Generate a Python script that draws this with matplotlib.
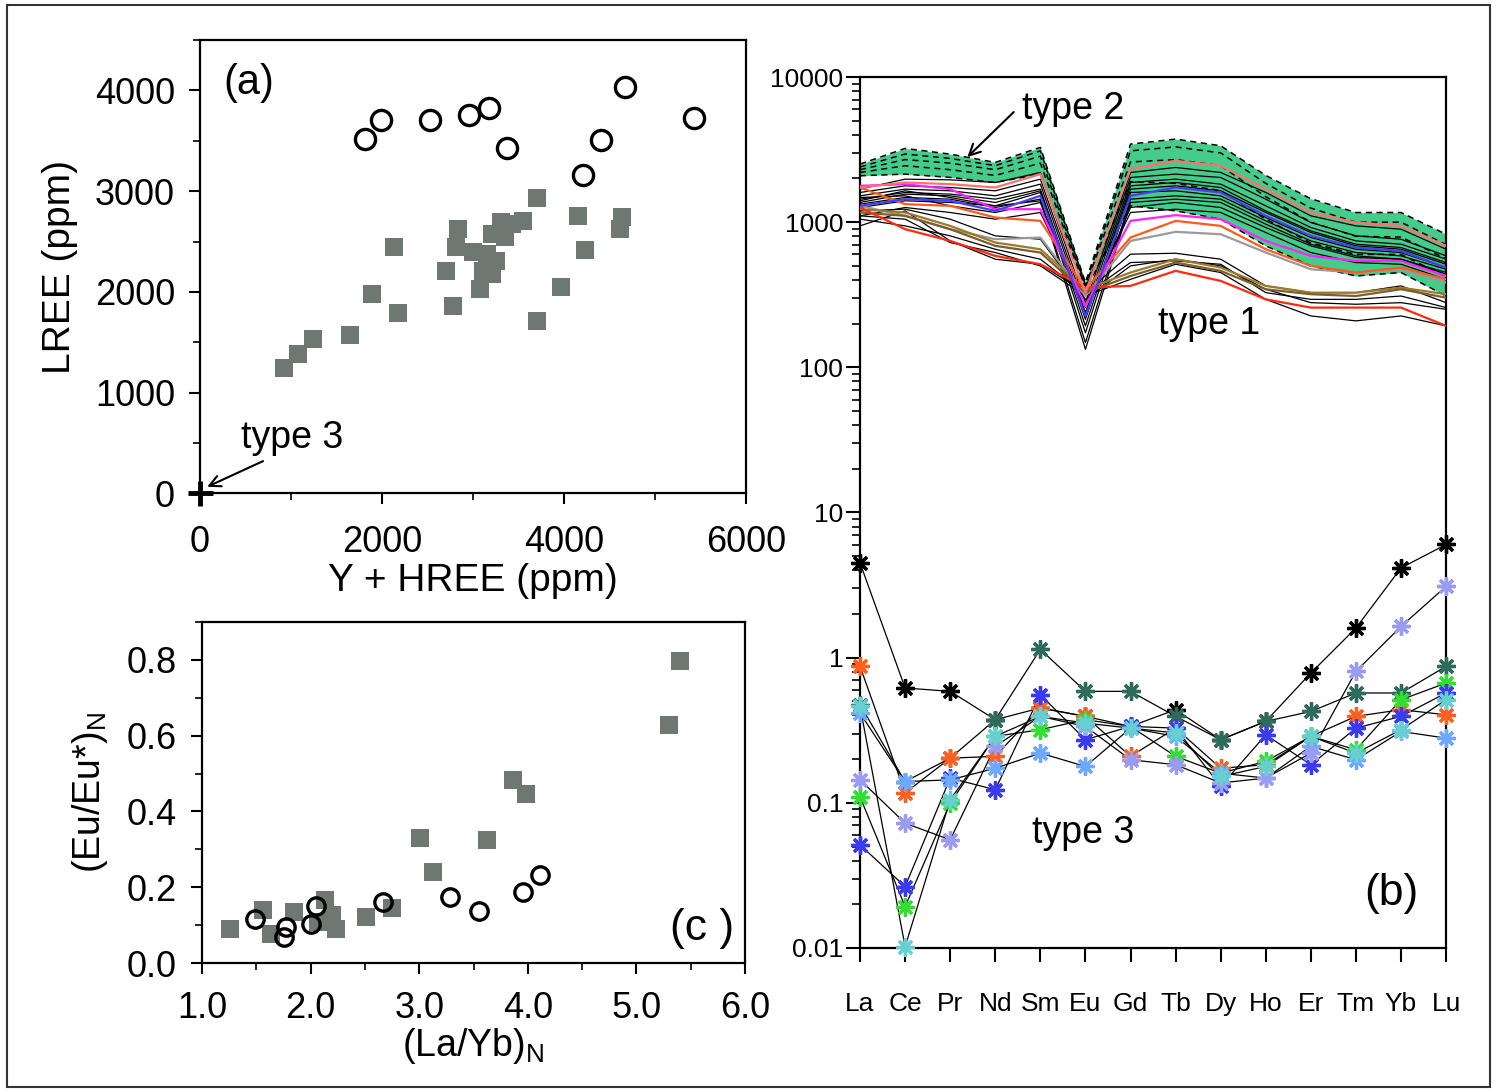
import numpy as np
import matplotlib.pyplot as plt
from matplotlib.patches import Rectangle
from matplotlib.ticker import MultipleLocator, LogLocator, NullFormatter

plt.rcParams['font.family'] = ['Liberation Sans', 'DejaVu Sans']
plt.rcParams['mathtext.default'] = 'regular'

# ---------------- panel (a) data: LREE vs Y+HREE (ppm)
a_circ_x = [1813, 1990, 2523, 2957, 3174, 3378, 4206, 4408, 4671, 5428]
a_circ_y = [3515, 3703, 3706, 3755, 3828, 3426, 3158, 3508, 4033, 3723]
a_sq_x = [918, 1072, 1242, 1644, 1893, 2180, 2137, 2700, 2779, 2838, 2818, 2996, 3075, 3114,
          3153, 3212, 3252, 3212, 3349, 3311, 3429, 3547, 3706, 3706, 3962, 4159, 4226, 4640, 4612]
a_sq_y = [1244, 1386, 1528, 1574, 1980, 1792, 2449, 2211, 1855, 2624, 2442, 2393, 2024, 2211,
          2376, 2178, 2310, 2574, 2541, 2689, 2673, 2706, 2931, 1706, 2046, 2749, 2416, 2746, 2624]
a_type3_x = [0]
a_type3_y = [0]

# ---------------- panel (c) data: (Eu/Eu*)N vs (La/Yb)N
c_sq_x = [1.26, 1.56, 1.64, 1.85, 2.07, 2.13, 2.20, 2.23, 2.51, 2.75, 3.01, 3.13, 3.62, 3.86, 3.98, 5.30, 5.40]
c_sq_y = [0.089, 0.140, 0.077, 0.135, 0.109, 0.166, 0.126, 0.089, 0.122, 0.144, 0.329, 0.240, 0.324, 0.482, 0.446, 0.629, 0.798]
c_circ_x = [1.49, 1.77, 1.76, 2.00, 2.05, 2.67, 3.28, 3.55, 3.96, 4.11]
c_circ_y = [0.116, 0.095, 0.069, 0.104, 0.151, 0.160, 0.173, 0.138, 0.187, 0.231]

# ---------------- panel (b) data: chondrite-normalised REE
elements = ['La', 'Ce', 'Pr', 'Nd', 'Sm', 'Eu', 'Gd', 'Tb', 'Dy', 'Ho', 'Er', 'Tm', 'Yb', 'Lu']

# type 2 (shaded band, dashed lines)
t2_upper = [2512, 3222, 2944, 2581, 3275, 384, 3451, 3736, 3361, 2100, 1450, 1166, 1166, 826]
t2_mid1 = [2400, 2950, 2750, 2450, 3100, 370, 3100, 3300, 3000, 1850, 1250, 1000, 1000, 700]
t2_mid2 = [2300, 2700, 2550, 2300, 2850, 360, 2600, 2700, 2450, 1500, 1000, 800, 790, 560]
t2_mid3 = [2200, 2450, 2300, 2100, 2550, 352, 1900, 1850, 1650, 1050, 720, 600, 600, 420]
t2_lower = [2088, 2143, 2034, 1877, 2143, 345, 1297, 1197, 1049, 687, 500, 426, 450, 310]

# type 1 (coloured lines)
t1_pink = [1734, 1877, 1828, 1734, 2143, 327, 2320, 2648, 2447, 1689, 1166, 995, 943, 687]
t1_blue = [1296, 1441, 1404, 1197, 1519, 226, 1519, 1734, 1602, 1106, 805, 669, 634, 487]
t1_magenta = [1780, 1828, 1689, 1229, 1229, 265, 1021, 1118, 1049, 743, 586, 541, 541, 426]
t1_orange = [1734, 1331, 1296, 1077, 1021, 345, 784, 1021, 943, 651, 500, 450, 487, 404]
t1_gray = [1296, 1106, 895, 763, 784, 310, 743, 858, 826, 618, 474, 450, 474, 384]
t1_brown1 = [1229, 1166, 943, 724, 651, 345, 450, 556, 487, 364, 327, 327, 354, 319]
t1_brown2 = [1166, 1106, 895, 687, 618, 327, 426, 527, 462, 345, 319, 310, 345, 302]
t1_red = [1262, 895, 743, 586, 513, 354, 364, 462, 394, 294, 258, 258, 258, 193]
# type 1 (black lines)
t1_k1 = [943, 1197, 743, 556, 513, 327, 602, 611, 556, 364, 327, 327, 364, 279]
t1_k2 = [1049, 943, 805, 651, 556, 319, 527, 541, 513, 327, 294, 294, 310, 258]
t1_k3 = [1106, 1049, 724, 618, 500, 310, 404, 513, 450, 294, 226, 209, 226, 193]
t1_k4 = [1197, 1229, 1049, 805, 763, 294, 500, 556, 500, 345, 279, 272, 279, 251]
t1_k5 = [1689, 1979, 1958, 1877, 2200, 279, 2200, 2382, 2200, 1602, 1106, 943, 895, 651]
t1_k6 = [1602, 1780, 1734, 1645, 1979, 258, 2032, 2143, 2032, 1441, 995, 805, 763, 586]
t1_k7 = [1519, 1689, 1645, 1519, 1828, 238, 1877, 1979, 1828, 1296, 919, 743, 705, 556]
t1_k8 = [1441, 1602, 1560, 1441, 1689, 214, 1780, 1877, 1734, 1197, 871, 705, 669, 527]
t1_k9 = [1367, 1560, 1519, 1367, 1645, 193, 1689, 1780, 1645, 1166, 849, 687, 651, 513]
t1_k10 = [1404, 1645, 1480, 1296, 1602, 173, 1602, 1645, 1519, 1077, 784, 651, 618, 487]
t1_k11 = [1331, 1480, 1441, 1262, 1441, 148, 1441, 1519, 1441, 1021, 743, 618, 586, 474]
t1_k12 = [1262, 1404, 1367, 1296, 1404, 133, 1367, 1441, 1367, 969, 705, 586, 556, 450]
t1_k13 = [1480, 1519, 1296, 1166, 1367, 238, 1262, 1367, 1262, 919, 687, 571, 556, 438]
t1_k14 = [1106, 1262, 1166, 1049, 1166, 265, 1166, 1229, 1166, 849, 618, 527, 513, 404]

# type 3 (asterisk markers)
t3_black = [4.50, 0.618, 0.586, 0.374, 0.450, 0.394, 0.336, 0.438, 0.272, 0.364, 0.784, 1.60, 4.15, 6.02]
t3_teal = [0.474, 0.140, 0.203, 0.374, 1.14, 0.586, 0.586, 0.394, 0.272, 0.364, 0.426, 0.571, 0.571, 0.871]
t3_orange = [0.871, 0.117, 0.203, 0.209, 0.450, 0.394, 0.209, 0.327, 0.173, 0.183, 0.287, 0.394, 0.438, 0.404]
t3_green = [0.110, 0.0193, 0.0995, 0.287, 0.319, 0.374, 0.336, 0.209, 0.160, 0.193, 0.287, 0.232, 0.513, 0.668]
t3_blue = [0.0513, 0.0265, 0.148, 0.123, 0.556, 0.272, 0.336, 0.327, 0.130, 0.294, 0.183, 0.327, 0.394, 0.571]
t3_lightblue = [0.415, 0.140, 0.144, 0.173, 0.220, 0.178, 0.327, 0.287, 0.160, 0.148, 0.245, 0.198, 0.310, 0.279]
t3_lavender = [0.144, 0.0724, 0.0556, 0.245, 0.394, 0.336, 0.198, 0.183, 0.137, 0.148, 0.220, 0.805, 1.64, 3.10]
t3_cyan = [0.462, 0.0102, 0.105, 0.287, 0.394, 0.354, 0.327, 0.303, 0.152, 0.178, 0.287, 0.220, 0.319, 0.513]

SQ = '#6f7773'
TICK = 26

fig = plt.figure(figsize=(14.97, 10.91), dpi=100)
fig.patches.append(Rectangle((0.005, 0.004), 0.99, 0.991, transform=fig.transFigure,
                             fill=False, edgecolor='#333333', linewidth=1.5))


def style_box(ax):
    for s in ax.spines.values():
        s.set_linewidth(1.6)
    ax.tick_params(which='major', direction='out', length=8, width=1.5, labelsize=TICK)
    ax.tick_params(which='minor', direction='out', length=5, width=1.2)
    ax.tick_params(axis='y', pad=10)


# ---------------- (a)
ax_a = fig.add_axes([0.1336, 0.5478, 0.3647, 0.4155])
ax_a.scatter(a_sq_x, a_sq_y, marker='s', s=170, color=SQ, linewidths=0, zorder=2)
ax_a.plot(a_circ_x, a_circ_y, 'o', ms=14.5, mfc='white', mec='black', mew=2.4, zorder=3)
ax_a.plot(a_type3_x, a_type3_y, '+', ms=18, mec='black', mew=3.5, clip_on=False, zorder=4)
ax_a.set_xlim(0, 6000)
ax_a.set_ylim(0, 4500)
ax_a.xaxis.set_major_locator(MultipleLocator(2000))
ax_a.xaxis.set_minor_locator(MultipleLocator(1000))
ax_a.yaxis.set_major_locator(MultipleLocator(1000))
ax_a.yaxis.set_minor_locator(MultipleLocator(500))
style_box(ax_a)
ax_a.tick_params(axis='x', pad=15)
ax_a.set_xlabel('Y + HREE (ppm)', fontsize=28, labelpad=2)
ax_a.set_ylabel('LREE (ppm)', fontsize=28, labelpad=12)
ax_a.text(0.09, 0.905, '(a)', transform=ax_a.transAxes, fontsize=30, ha='center', va='center')
ax_a.text(1010, 545, 'type 3', fontsize=27, ha='center', va='center')
ax_a.annotate('', xy=(79, 65), xytext=(693, 320),
              arrowprops=dict(arrowstyle='->', color='black', lw=1.5, shrinkA=0, shrinkB=0,
                              mutation_scale=20))

# ---------------- (c)
ax_c = fig.add_axes([0.1349, 0.1173, 0.3628, 0.3126])
ax_c.scatter(c_sq_x, c_sq_y, marker='s', s=170, color=SQ, linewidths=0, zorder=2)
ax_c.plot(c_circ_x, c_circ_y, 'o', ms=12.5, mfc='none', mec='black', mew=2.4, zorder=3)
ax_c.set_xlim(1.0, 6.0)
ax_c.set_ylim(0.0, 0.9)
ax_c.xaxis.set_major_locator(MultipleLocator(1.0))
ax_c.xaxis.set_minor_locator(MultipleLocator(0.5))
ax_c.yaxis.set_major_locator(MultipleLocator(0.2))
ax_c.yaxis.set_minor_locator(MultipleLocator(0.1))
ax_c.xaxis.set_major_formatter('{x:.1f}')
ax_c.yaxis.set_major_formatter('{x:.1f}')
style_box(ax_c)
ax_c.tick_params(axis='x', pad=12)
ax_c.set_xlabel('(La/Yb)$_N$', fontsize=27, labelpad=0)
ax_c.set_ylabel('(Eu/Eu*)$_N$', fontsize=27, labelpad=12)
ax_c.text(0.92, 0.10, '(c )', transform=ax_c.transAxes, fontsize=32, ha='center', va='center')

# ---------------- (b)
ax_b = fig.add_axes([0.5745, 0.1311, 0.3915, 0.7983])
x = np.arange(len(elements))

ax_b.fill_between(x, t2_lower, t2_upper, color='#45cc8a', lw=0, zorder=1)
for s in [t2_upper, t2_mid1, t2_mid2, t2_mid3, t2_lower]:
    ax_b.plot(x, s, color='black', lw=1.1, ls=(0, (4, 3)), zorder=2)

for s in [t1_k1, t1_k2, t1_k3, t1_k4, t1_k5, t1_k6, t1_k7, t1_k8, t1_k9,
          t1_k10, t1_k11, t1_k12, t1_k13, t1_k14]:
    ax_b.plot(x, s, color='black', lw=0.9, zorder=3)
t1_colored = [(t1_gray, '#9a9a9a'), (t1_brown1, '#9c7a2a'), (t1_brown2, '#7a6030'),
              (t1_red, '#ff2a10'), (t1_orange, '#ff5a1a'), (t1_magenta, '#ff22ff'),
              (t1_blue, '#4a3cf0'), (t1_pink, '#ff7070')]
for s, col in t1_colored:
    ax_b.plot(x, s, color=col, lw=1.6, zorder=4)

t3 = [(t3_black, 'black'), (t3_teal, '#2f6b5c'), (t3_orange, '#ff6020'), (t3_green, '#33dd33'),
      (t3_blue, '#3a3af0'), (t3_lightblue, '#6fa8ff'), (t3_lavender, '#9a9cf0'), (t3_cyan, '#66d0d0')]
for s, col in t3:
    ax_b.plot(x, s, color='black', lw=0.9, zorder=5)
for s, col in t3:
    ax_b.plot(x, s, ls='none', marker=(8, 2, 0), ms=13, mec=col, mew=2.4, zorder=6, clip_on=False)

ax_b.set_yscale('log')
ax_b.set_xlim(0, len(elements) - 1)
ax_b.set_ylim(0.01, 10000)
ax_b.set_xticks(x)
ax_b.set_xticklabels(elements)
ax_b.set_yticks([0.01, 0.1, 1, 10, 100, 1000, 10000])
ax_b.set_yticklabels(['0.01', '0.1', '1', '10', '100', '1000', '10000'])
ax_b.yaxis.set_minor_locator(LogLocator(base=10, subs=np.arange(2, 10)))
ax_b.yaxis.set_minor_formatter(NullFormatter())
for s in ax_b.spines.values():
    s.set_linewidth(1.6)
ax_b.tick_params(which='major', direction='out', length=10, width=1.5, labelsize=19)
ax_b.tick_params(which='minor', direction='out', length=6, width=1.2)
ax_b.tick_params(axis='x', pad=22)
ax_b.tick_params(axis='y', pad=2)

ax_b.text(4.72, 6000, 'type 2', fontsize=27, ha='center', va='center')
ax_b.annotate('', xy=(2.38, 2806), xytext=(3.41, 5740),
              arrowprops=dict(arrowstyle='->', color='black', lw=1.5, shrinkA=0, shrinkB=0,
                              mutation_scale=20))
ax_b.text(7.75, 198, 'type 1', fontsize=27, ha='center', va='center')
ax_b.text(4.94, 0.062, 'type 3', fontsize=27, ha='center', va='center')
ax_b.text(0.906, 0.063, '(b)', transform=ax_b.transAxes, fontsize=32, ha='center', va='center')

fig.savefig('out.png', dpi=100)
